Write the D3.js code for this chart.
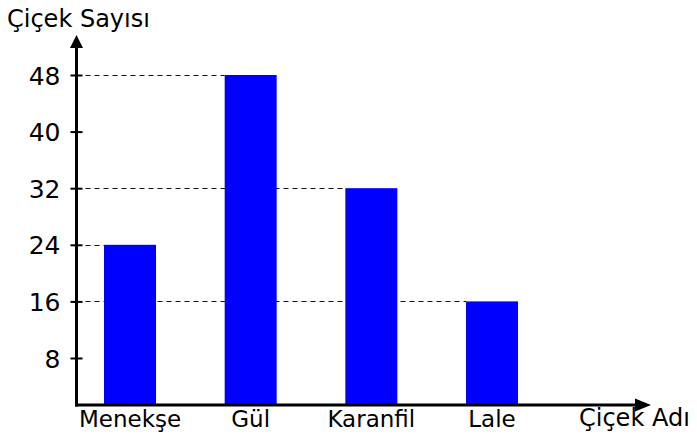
<!DOCTYPE html>
<html lang="tr">
<head>
  <meta charset="utf-8">
  <title>Çiçek Sayısı</title>
  <script src="https://d3js.org/d3.v7.min.js"></script>
  <style>
    body { margin: 0; background: #fff; }
    #chart text { font-family: "DejaVu Sans", Verdana, sans-serif; fill: #000; }
  </style>
</head>
<body>
  <div id="chart"></div>
  <script>
    "use strict"

    // dados
    var cicekler = ["Menekşe", "Gül", "Karanfil", "Lale"];
    var sayilar = [24, 48, 32, 16];
    var yTicks = [8, 16, 24, 32, 40, 48];
    var kesikCizgiler = [48, 32, 24, 16]; // linhas tracejadas até as barras

    var largura = 697, altura = 447;
    var eixoX = 76.5, eixoY = 405;   // onde ficam os eixos
    var larguraBarra = 52;

    var svg = d3.select("#chart").append("svg")
      .attr("width", largura)
      .attr("height", altura);

    var x = d3.scalePoint()
      .domain(cicekler)
      .range([130, 492]);

    var y = d3.scaleLinear()
      .domain([0, 48])
      .range([414.6, 75]);

    // linhas tracejadas (atrás das barras)
    svg.selectAll(".dash")
      .data(kesikCizgiler)
      .enter().append("line")
        .attr("class", "dash")
        .attr("x1", eixoX)
        .attr("x2", d => x(cicekler[sayilar.indexOf(d)]) - larguraBarra / 2)
        .attr("y1", d => Math.round(y(d)) + 0.5)
        .attr("y2", d => Math.round(y(d)) + 0.5)
        .attr("stroke", "#111")
        .attr("stroke-width", 1)
        .attr("stroke-dasharray", "5,4");

    // barras
    svg.selectAll(".bar")
      .data(cicekler)
      .enter().append("rect")
        .attr("class", "bar")
        .attr("x", d => x(d) - larguraBarra / 2)
        .attr("width", larguraBarra)
        .attr("y", (d, i) => y(sayilar[i]))
        .attr("height", (d, i) => eixoY - y(sayilar[i]))
        .attr("fill", "#0000ff");

    // eixo y com ticks
    var gy = svg.append("g")
      .attr("transform", "translate(" + (eixoX + 6) + ",0)")
      .call(d3.axisLeft(y).tickValues(yTicks).tickSize(12).tickPadding(10));
    gy.select(".domain").remove();
    gy.selectAll(".tick line").attr("stroke", "#000").attr("stroke-width", 2);
    gy.selectAll(".tick text").style("font-size", "25px").attr("x", -22).attr("dy", "0.36em");

    // linhas dos eixos com setas
    svg.append("line")
      .attr("x1", eixoX).attr("x2", eixoX)
      .attr("y1", eixoY + 1.5).attr("y2", 46)
      .attr("stroke", "#000").attr("stroke-width", 3);
    svg.append("path")
      .attr("d", d3.line()([[eixoX, 35], [eixoX - 6.5, 48], [eixoX + 6.5, 48]]) + "Z")
      .attr("fill", "#000");

    svg.append("line")
      .attr("x1", eixoX - 1.5).attr("x2", 637)
      .attr("y1", eixoY).attr("y2", eixoY)
      .attr("stroke", "#000").attr("stroke-width", 3);
    svg.append("path")
      .attr("d", d3.line()([[651, eixoY], [635, eixoY - 6.5], [635, eixoY + 6.5]]) + "Z")
      .attr("fill", "#000");

    // rótulos das categorias
    svg.selectAll(".cat")
      .data(cicekler)
      .enter().append("text")
        .attr("class", "cat")
        .attr("x", d => x(d))
        .attr("y", 427)
        .attr("text-anchor", "middle")
        .style("font-size", "23px")
        .text(d => d);

    // títulos dos eixos
    svg.append("text")
      .attr("x", 7).attr("y", 27)
      .style("font-size", "24px")
      .text("Çiçek Sayısı");

    svg.append("text")
      .attr("x", 579).attr("y", 426)
      .style("font-size", "24px")
      .text("Çiçek Adı");
  </script>
</body>
</html>
